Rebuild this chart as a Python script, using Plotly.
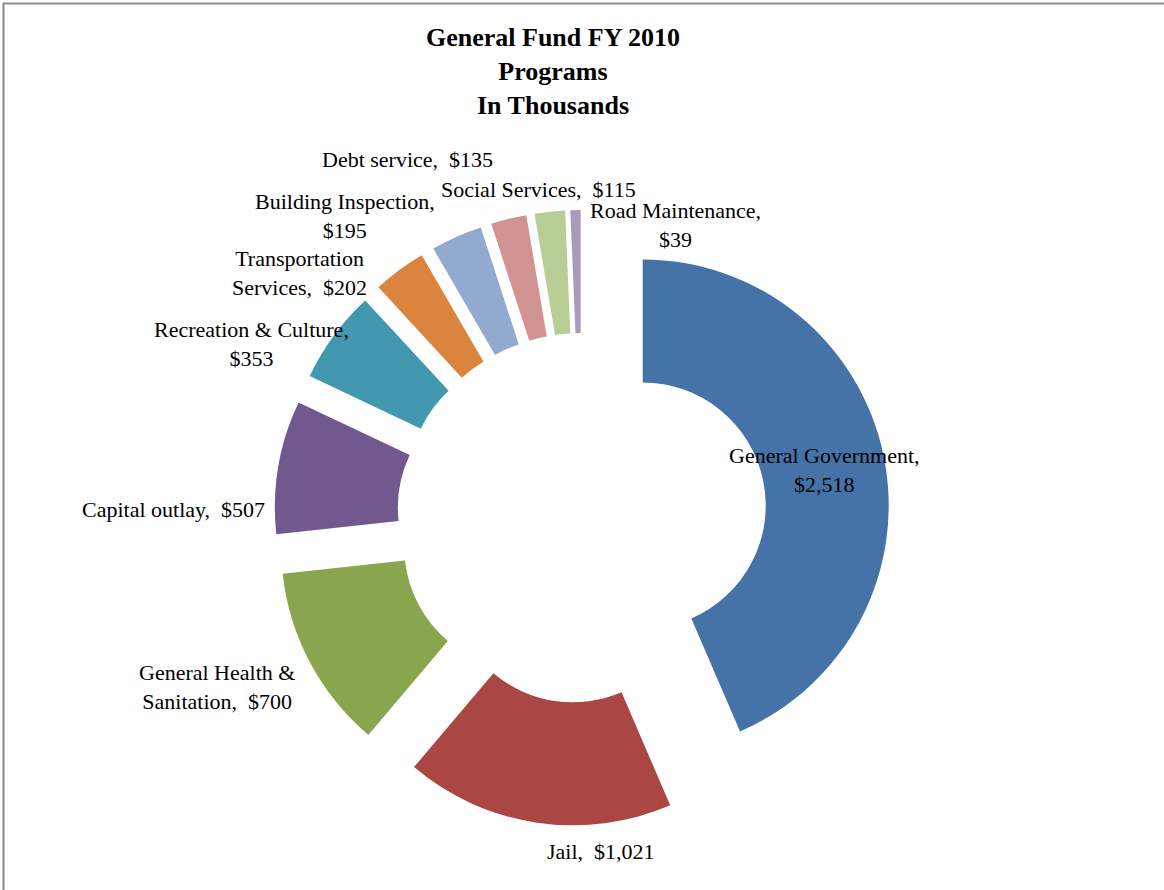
import plotly.graph_objects as go

W, H = 1164, 890

# ---- data ----
categories = ["General Government", "Jail", "General Health & Sanitation", "Capital outlay",
              "Recreation & Culture", "Transportation Services", "Building Inspection",
              "Debt service", "Social Services", "Road Maintenance"]
values = [2518, 1021, 700, 507, 353, 202, 195, 135, 115, 39]
label_text = ["General Government,<br>$2,518", "Jail,  $1,021", "General Health &<br>Sanitation,  $700",
              "Capital outlay,  $507", "Recreation & Culture,<br>$353", "Transportation<br>Services,  $202",
              "Building Inspection,<br>$195", "Debt service,  $135", "Social Services,  $115",
              "Road Maintenance,<br>$39"]
colors = ["#4572A7", "#AA4643", "#89A54E", "#71588F", "#4198AF",
          "#DB843D", "#93A9CF", "#D19392", "#B9CD96", "#A99BBD"]

# label centre positions in pixels (layout only)
label_pos = [(824, 470), (601, 851), (217, 687), (173, 509), (251, 344),
             (299, 273), (345, 216), (407, 159), (538, 189), (675, 225)]

def px(x):
    return x / W

def py(y):
    return 1 - y / H

cx, cy, R, pull = 582, 518, 246, 0.252
half = R * (1 + pull)

fig = go.Figure(go.Pie(
    labels=categories,
    values=values,
    sort=False,
    direction="clockwise",
    rotation=0,
    hole=0.5,
    pull=[pull] * len(values),
    marker=dict(colors=colors, line=dict(width=0)),
    textinfo="none",
    hoverinfo="skip",
    showlegend=False,
    domain=dict(x=[px(cx - half), px(cx + half)], y=[py(cy + half), py(cy - half)]),
))

annotations = []
for txt, (lx, ly) in zip(label_text, label_pos):
    annotations.append(dict(
        x=px(lx), y=py(ly), xref="paper", yref="paper", text=txt, showarrow=False,
        xanchor="center", yanchor="middle", align="center",
        font=dict(family="Liberation Serif", size=22, color="#000000")))

annotations.append(dict(
    x=px(553), y=py(72), xref="paper", yref="paper",
    text="<b>General Fund FY 2010<br>Programs<br>In Thousands</b>", showarrow=False,
    xanchor="center", yanchor="middle", align="center",
    font=dict(family="Liberation Serif", size=26, color="#000000")))

fig.update_layout(
    width=W, height=H,
    margin=dict(l=0, r=0, t=0, b=0),
    paper_bgcolor="#ffffff",
    plot_bgcolor="#ffffff",
    annotations=annotations,
    shapes=[dict(type="rect", xref="paper", yref="paper",
                 x0=px(3.5), x1=px(W + 20), y0=py(H + 20), y1=py(3.5),
                 line=dict(color="#8a8a8a", width=2), fillcolor="rgba(0,0,0,0)")],
)

fig.write_html("out.html")
